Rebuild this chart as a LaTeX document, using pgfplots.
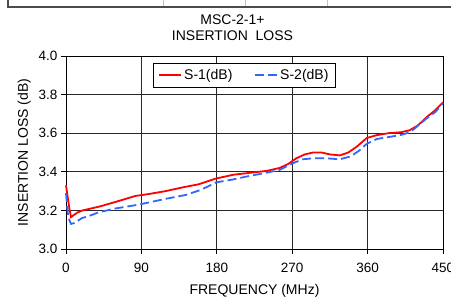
\documentclass[border=0pt]{standalone}
\usepackage{pgfplots}
\pgfplotsset{compat=1.18}
\usepackage{fontspec}
\setmainfont{Liberation Sans}
\definecolor{sred}{RGB}{255,0,0}
\definecolor{sblue}{RGB}{51,102,255}
\definecolor{gridc}{RGB}{40,40,40}
\begin{document}
\begin{tikzpicture}
\begin{axis}[
  name=ax,
  scale only axis, width=377pt, height=193pt,
  xmin=0, xmax=450, ymin=3.0, ymax=4.0,
  xtick={0,90,...,450}, ytick={3.0,3.2,...,4.0},
  yticklabel style={/pgf/number format/fixed, /pgf/number format/fixed zerofill, /pgf/number format/precision=1},
  /pgf/number format/assume math mode=true,
  tick label style={font=\fontsize{13.5}{16}\selectfont},
  xticklabel style={yshift=-6pt},
  label style={font=\fontsize{14}{16}\selectfont},
  xlabel={FREQUENCY (MHz)}, ylabel={INSERTION LOSS (dB)},
  xlabel style={yshift=-4pt}, ylabel style={yshift=1pt},
  tick align=outside, major tick length=5pt,
  tick style={black, line width=0.8pt},
  grid=major, major grid style={gridc, line width=0.8pt},
  axis line style={black, line width=0.8pt},
  xtick pos=bottom, ytick pos=left,
  legend columns=2,
  legend style={at={(0.2308,0.9637)}, anchor=north west, draw=black, line width=0.8pt, fill=white,
    font=\fontsize{14}{16}\selectfont, inner xsep=5pt, inner ysep=4pt,
    /tikz/every even column/.append style={column sep=20pt}},
  legend image code/.code={\draw[#1] (0pt,0pt) -- (22pt,0pt);},
  clip=false,
]
\addplot[sred, line width=1.8pt] coordinates {
(0,3.33) (2,3.27) (4,3.21) (6,3.165) (9,3.175) (14,3.19) (20,3.20) (30,3.21) (40,3.22)
(60,3.245) (83,3.275) (99,3.285) (119,3.30) (140,3.32) (158,3.335) (179,3.365) (200,3.385)
(220,3.395) (240,3.405) (255,3.42) (265,3.44) (275,3.47) (285,3.49) (295,3.50) (305,3.50)
(315,3.49) (327,3.485) (337,3.50) (347,3.53) (359,3.575) (371,3.59) (385,3.60) (400,3.605)
(410,3.615) (420,3.64) (431,3.685) (441,3.72) (450,3.76)
};
\addlegendentry{S-1(dB)}
\addplot[sblue, line width=1.8pt, dash pattern=on 9pt off 4pt] coordinates {
(0,3.29) (2,3.19) (4,3.15) (6,3.13) (10,3.135) (19,3.16) (30,3.175) (39,3.19) (59,3.21)
(87,3.23) (119,3.26) (143,3.28) (160,3.305) (170,3.325) (179,3.345) (199,3.36) (215,3.375)
(239,3.395) (255,3.41) (271,3.445) (283,3.465) (295,3.47) (310,3.47) (327,3.465) (340,3.48)
(350,3.51) (359,3.545) (371,3.57) (385,3.58) (399,3.59) (407,3.60) (415,3.62) (430,3.675)
(441,3.71) (450,3.755)
};
\addlegendentry{S-2(dB)}
\end{axis}
\begin{scope}[shift={(ax.south west)}, x=1pt, y=1pt, shift={(-66,-50)}]
\draw[line width=1.3pt, black!70] (8,300) -- (8,292) -- (452,292);
\foreach \xx in {163,245,327} \draw[black!25, line width=0.8pt] (\xx,299) -- (\xx,293);
\node[anchor=base, font=\fontsize{14}{16}\selectfont, inner sep=0pt] at (232.5,274) {MSC-2-1+};
\node[anchor=base, font=\fontsize{14}{16}\selectfont, inner sep=0pt] at (232.5,258) {INSERTION\ \ LOSS};
\pgfresetboundingbox
\path[use as bounding box] (0,0) rectangle (451,299);
\end{scope}
\end{tikzpicture}
\end{document}
